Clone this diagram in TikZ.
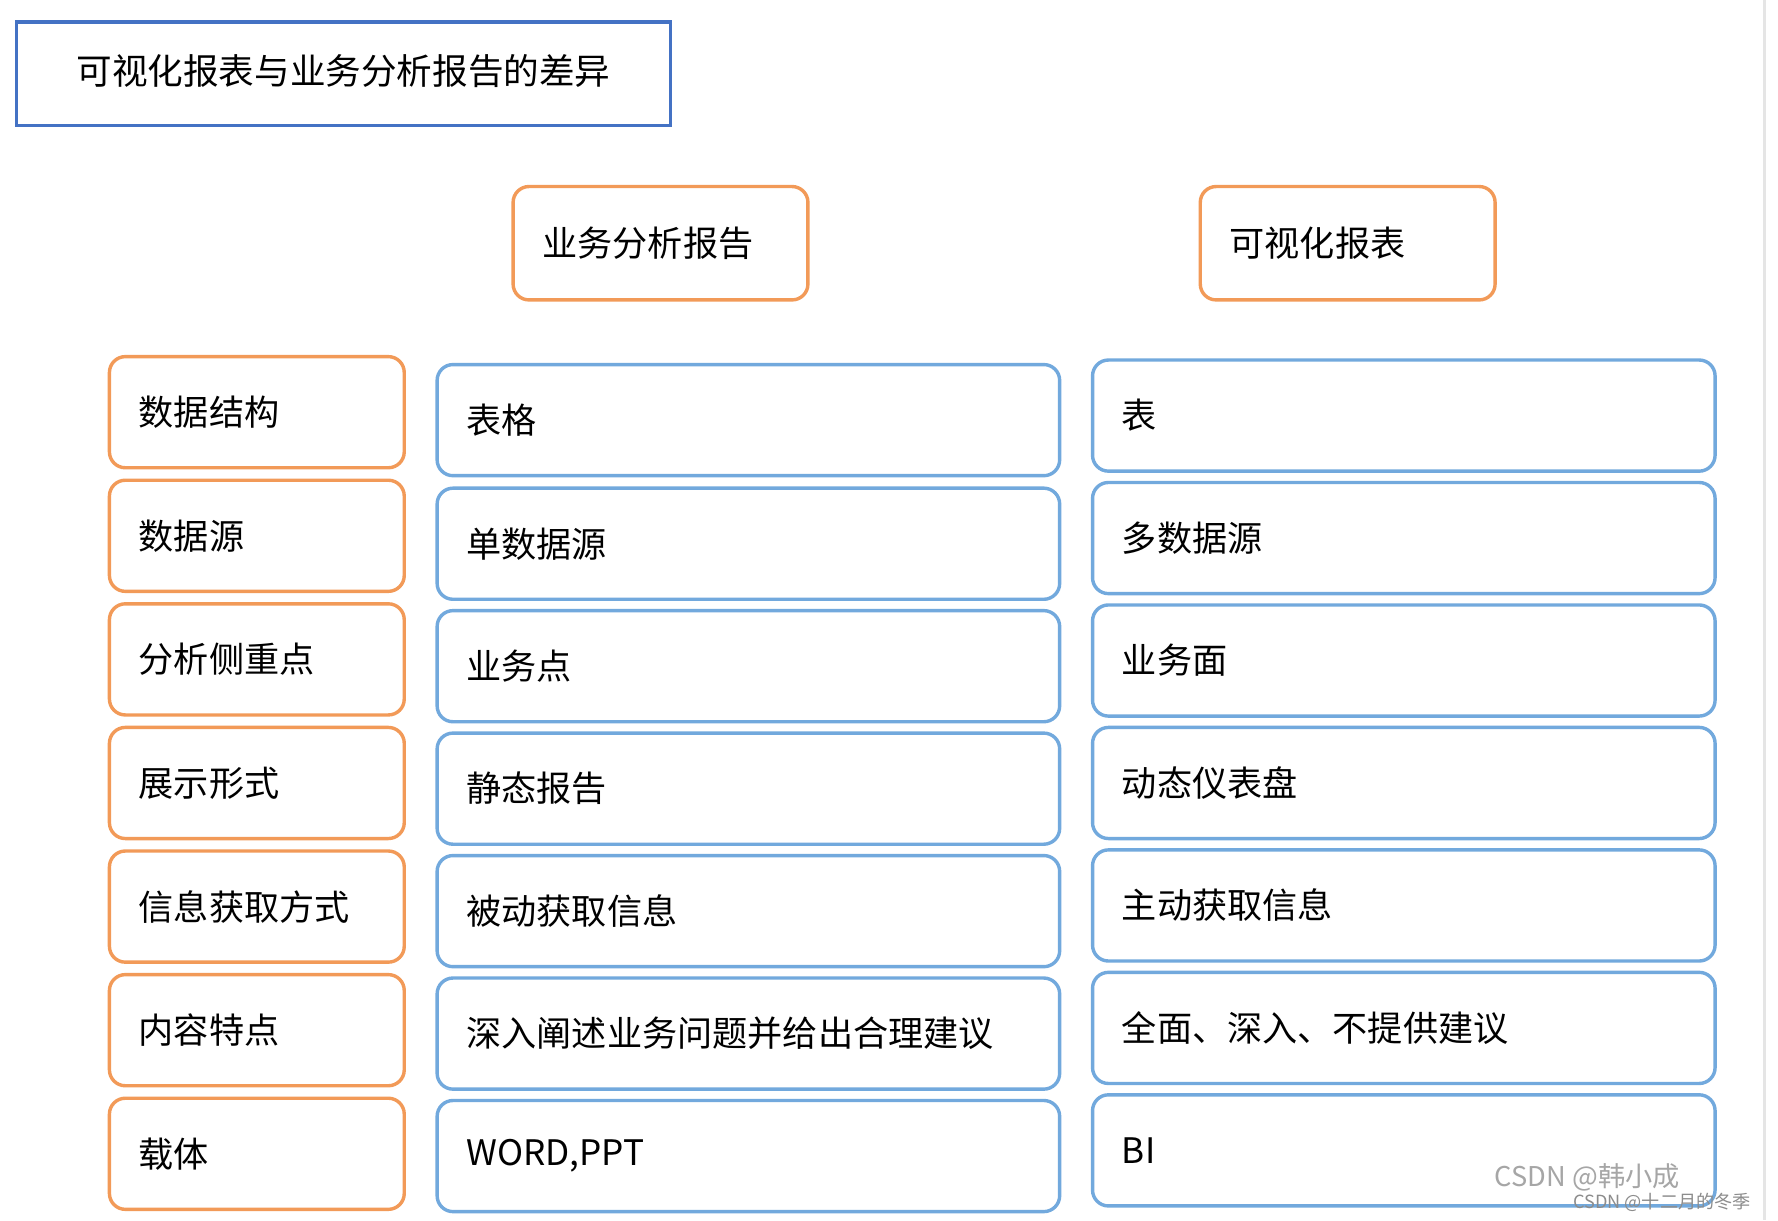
\documentclass[tikz,border=0pt]{standalone}
\usepackage{fontspec}
\setmainfont{Noto Sans CJK SC}
\definecolor{ttl}{HTML}{4472C4}
\definecolor{org}{HTML}{F29A58}
\definecolor{blu}{HTML}{72A9DD}
\tikzset{
 base/.style={anchor=north west,line width=1.5pt,inner xsep=0pt,inner ysep=0pt},
 obox/.style={base,draw=org,rounded corners=7pt},
 bbox/.style={base,draw=blu,rounded corners=7pt},
 tbox/.style={base,draw=ttl},
 lbl/.style={anchor=west,inner sep=0pt,font=\fontsize{15.5}{18}\selectfont},
}
% name, style, x, y, w, h, text
\newcommand\bx[7]{%
 \node[#2,minimum width=#5*0.5pt,minimum height=#6*0.5pt] (#1) at (#3*0.5pt,-#4*0.5pt) {};
 \node[lbl] (#1t) at ([xshift=13.5pt]#1.west) {#7};}
\begin{document}
\begin{tikzpicture}
\useasboundingbox[fill=white] (0,0) rectangle (1568*0.5pt,-1076*0.5pt);
\node[tbox,minimum width=577*0.5pt,minimum height=91*0.5pt] (title) at (13*0.5pt,-18*0.5pt) {};
\node[lbl,font=\fontsize{15.7}{20}\selectfont] (titlet) at ([xshift=27pt,yshift=1pt]title.west) {可视化报表与业务分析报告的差异};
\bx{h1}{obox}{451}{163}{260}{100}{业务分析报告}
\bx{h2}{obox}{1057}{163}{260}{100}{可视化报表}
\bx{l1}{obox}{95}{313}{260}{98}{数据结构}
\bx{l2}{obox}{95}{422}{260}{98}{数据源}
\bx{l3}{obox}{95}{531}{260}{98}{分析侧重点}
\bx{l4}{obox}{95}{640}{260}{98}{展示形式}
\bx{l5}{obox}{95}{749}{260}{98}{信息获取方式}
\bx{l6}{obox}{95}{858}{260}{98}{内容特点}
\bx{l7}{obox}{95}{967}{260}{98}{载体}
\bx{m1}{bbox}{384}{320}{549}{98}{表格}
\bx{m2}{bbox}{384}{429}{549}{98}{单数据源}
\bx{m3}{bbox}{384}{537}{549}{98}{业务点}
\bx{m4}{bbox}{384}{645}{549}{98}{静态报告}
\bx{m5}{bbox}{384}{753}{549}{98}{被动获取信息}
\bx{m6}{bbox}{384}{861}{549}{98}{深入阐述业务问题并给出合理建议}
\bx{m7}{bbox}{384}{969}{549}{98}{WORD,PPT}
\bx{r1}{bbox}{962}{316}{549}{98}{表}
\bx{r2}{bbox}{962}{424}{549}{98}{多数据源}
\bx{r3}{bbox}{962}{532}{549}{98}{业务面}
\bx{r4}{bbox}{962}{640}{549}{98}{动态仪表盘}
\bx{r5}{bbox}{962}{748}{549}{98}{主动获取信息}
\bx{r6}{bbox}{962}{856}{549}{98}{全面、深入、不提供建议}
\bx{r7}{bbox}{962}{964}{549}{98}{BI}
\draw[black!10,line width=1pt] (1556*0.5pt,0) coordinate (sa) -- (1556*0.5pt,-1076*0.5pt) coordinate (sb);
\node[anchor=west,inner sep=0pt,text=black!35,font=\fontsize{12}{14}\selectfont] (wm1) at (1318*0.5pt,-1038*0.5pt) {CSDN @韩小成};
\node[anchor=west,inner sep=0pt,text=black!45,font=\fontsize{8}{10}\selectfont] (wm2) at (1387*0.5pt,-1060*0.5pt) {CSDN @十二月的冬季};
\end{tikzpicture}
\end{document}
